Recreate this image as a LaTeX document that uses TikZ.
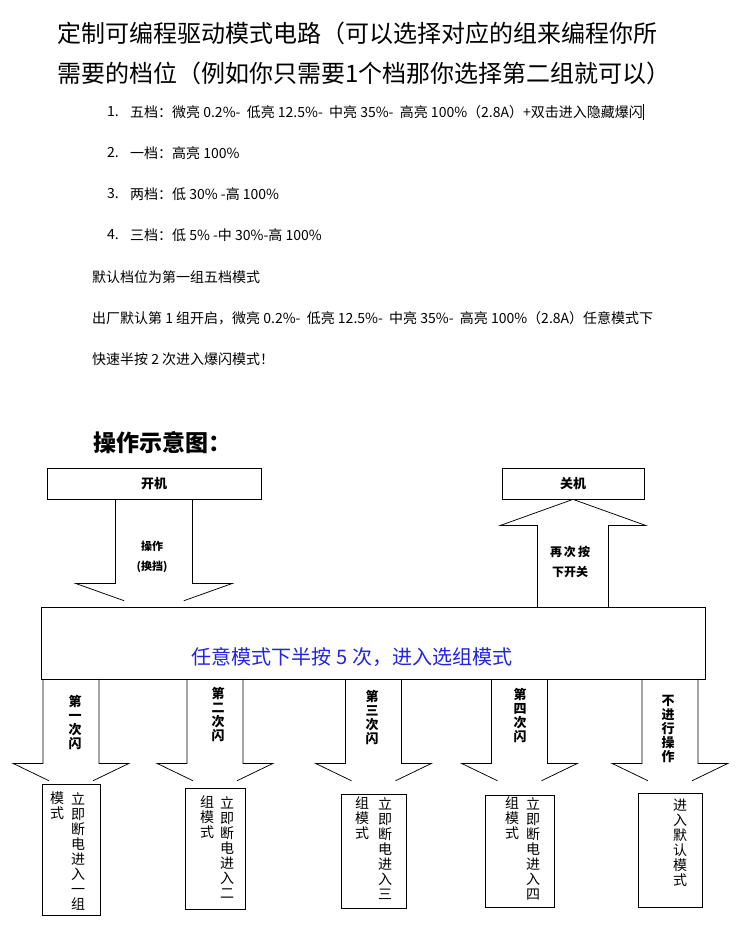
\documentclass[tikz,border=0pt]{standalone}
\usepackage{fontspec}
\setmainfont{Noto Sans CJK SC}
\usetikzlibrary{calc}
\definecolor{selblue}{RGB}{35,35,230}

\begin{document}
\begin{tikzpicture}[x=1pt, y=-1pt,
  ttl/.style={anchor=west, inner sep=0pt, font=\fontsize{24}{28}\selectfont},
  para/.style={anchor=west, inner sep=0pt, font=\fontsize{14}{16}\selectfont},
  box/.style={draw, fill=white, line width=0.75pt, inner sep=0pt},
  blk/.style={draw, fill=white, line width=0.75pt, line join=miter},
  flash/.style={anchor=north, align=center, inner sep=0pt, font=\bfseries\fontsize{13}{14}\selectfont},
  vcol/.style={anchor=north, align=center, inner sep=0pt, font=\fontsize{14}{15}\selectfont}
]
  \useasboundingbox (0,0) rectangle (750,930);

  %% Heading
  \node[ttl] (title1) at (57,33) {定制可编程驱动模式电路（可以选择对应的组来编程你所};
  \node[ttl] (title2) at (57,73) {需要的档位（例如你只需要1个档那你选择第二组就可以）};

  %% Gear list
  \node[para] (n1) at (107,112) {1.};
  \node[para] (g1) at (130,112) {五档：微亮 0.2\%-\ \ 低亮 12.5\%-\ \ 中亮 35\%-\ \ 高亮 100\%（2.8A）+双击进入隐藏爆闪\rule[-3pt]{1pt}{16pt}};
  \node[para] (n2) at (107,153) {2.};
  \node[para] (g2) at (130,153) {一档：高亮 100\%};
  \node[para] (n3) at (107,194) {3.};
  \node[para] (g3) at (130,194) {两档：低 30\% -高 100\%};
  \node[para] (n4) at (107,235) {4.};
  \node[para] (g4) at (130,235) {三档：低 5\% -中 30\%-高 100\%};

  %% Notes
  \node[para] (note1) at (92,277) {默认档位为第一组五档模式};
  \node[para] (note2) at (92,318) {出厂默认第 1 组开启，微亮 0.2\%-\ \ 低亮 12.5\%-\ \ 中亮 35\%-\ \ 高亮 100\%（2.8A）任意模式下};
  \node[para] (note3) at (92,359) {快速半按 2 次进入爆闪模式！};

  \node[anchor=west, inner sep=0pt, font=\bfseries\fontsize{23}{27}\selectfont] (diag) at (93,443) {操作示意图：};

  %% Power boxes and selection box
  \node[box, minimum width=214pt, minimum height=31pt, font=\bfseries\fontsize{13}{15}\selectfont] (on) at (154,483.5) {开机};
  \node[box, minimum width=142pt, minimum height=31pt, font=\bfseries\fontsize{13}{15}\selectfont] (off) at (573,483.5) {关机};
  \node[box, minimum width=664pt, minimum height=72pt] (sel) at (373,643) {};
  \node[text=selblue, font=\fontsize{20}{22}\selectfont] (seltxt) at (352,657) {任意模式下半按 5 次，进入选组模式};

  %% Operate arrow (down)
  \coordinate (opT) at ($(on.south)+(0,112)$);
  \coordinate (opL) at ($(on.south)+(-78.5,84)$);
  \coordinate (opR) at ($(on.south)+(78.5,84)$);
  \draw[blk] ($(opL)!.62!(opT)$) -- (opL) -- ++(40,0) -- ++(0,-84) -- ++(77,0) -- ++(0,84) -- (opR) -- ($(opR)!.62!(opT)$);
  \node[align=center, font=\bfseries\fontsize{11}{20}\selectfont] (oplbl) at (152,557) {操作\\(换挡)};

  %% Switch-off arrow (up)
  \draw[blk] (off.south) -- ++(72.5,26) -- ++(-37,0) -- ++(0,82) -- ++(-71,0) -- ++(0,-82) -- ++(-37,0) -- cycle;
  \node[align=center, font=\bfseries\fontsize{12}{20}\selectfont] (offlbl) at (570,562) {再\,次\,按\\下开关};

  %% Mode boxes
  \node[box, minimum width=58pt, minimum height=131pt] (m1) at (71,849.5) {};
  \node[box, minimum width=60pt, minimum height=121pt] (m2) at (215,848.5) {};
  \node[box, minimum width=65pt, minimum height=114pt] (m3) at (373.5,851) {};
  \node[box, minimum width=69pt, minimum height=112pt] (m4) at (519.5,851) {};
  \node[box, minimum width=64pt, minimum height=114pt] (m5) at (670,850) {};

  %% Flash arrows
  \coordinate (aT1) at ($(sel.south -| m1.north)+(0,112)$);
  \coordinate (aL1) at ($(sel.south -| m1.north)+(-58,84)$);
  \coordinate (aR1) at ($(sel.south -| m1.north)+(58,84)$);
  \draw[blk] ($(aL1)!.62!(aT1)$) -- (aL1) -- ++(30,0) -- ++(0,-84) -- ++(56,0) -- ++(0,84) -- (aR1) -- ($(aR1)!.62!(aT1)$);

  \coordinate (aT2) at ($(sel.south -| m2.north)+(0,112)$);
  \coordinate (aL2) at ($(sel.south -| m2.north)+(-58,84)$);
  \coordinate (aR2) at ($(sel.south -| m2.north)+(58,84)$);
  \draw[blk] ($(aL2)!.62!(aT2)$) -- (aL2) -- ++(30,0) -- ++(0,-84) -- ++(56,0) -- ++(0,84) -- (aR2) -- ($(aR2)!.62!(aT2)$);

  \coordinate (aT3) at ($(sel.south -| m3.north)+(0,112)$);
  \coordinate (aL3) at ($(sel.south -| m3.north)+(-58,84)$);
  \coordinate (aR3) at ($(sel.south -| m3.north)+(58,84)$);
  \draw[blk] ($(aL3)!.62!(aT3)$) -- (aL3) -- ++(30,0) -- ++(0,-84) -- ++(56,0) -- ++(0,84) -- (aR3) -- ($(aR3)!.62!(aT3)$);

  \coordinate (aT4) at ($(sel.south -| m4.north)+(0,112)$);
  \coordinate (aL4) at ($(sel.south -| m4.north)+(-58,84)$);
  \coordinate (aR4) at ($(sel.south -| m4.north)+(58,84)$);
  \draw[blk] ($(aL4)!.62!(aT4)$) -- (aL4) -- ++(30,0) -- ++(0,-84) -- ++(56,0) -- ++(0,84) -- (aR4) -- ($(aR4)!.62!(aT4)$);

  \coordinate (aT5) at ($(sel.south -| m5.north)+(0,112)$);
  \coordinate (aL5) at ($(sel.south -| m5.north)+(-58,84)$);
  \coordinate (aR5) at ($(sel.south -| m5.north)+(58,84)$);
  \draw[blk] ($(aL5)!.62!(aT5)$) -- (aL5) -- ++(30,0) -- ++(0,-84) -- ++(56,0) -- ++(0,84) -- (aR5) -- ($(aR5)!.62!(aT5)$);

  %% Arrow labels
  \node[flash] (f1) at (75,695) {第\\一\\次\\闪};
  \node[flash] (f2) at (218,687) {第\\二\\次\\闪};
  \node[flash] (f3) at (372,690) {第\\三\\次\\闪};
  \node[flash] (f4) at (520,688) {第\\四\\次\\闪};
  \node[flash] (f5) at (668,695) {不\\进\\行\\操\\作};

  %% Mode box texts
  \node[vcol] (t1a) at (78,792) {立\\即\\断\\电\\进\\入\\一\\组};
  \node[vcol] (t1b) at (57,792) {模\\式};
  \node[vcol] (t2a) at (227,796) {立\\即\\断\\电\\进\\入\\二};
  \node[vcol] (t2b) at (207,796) {组\\模\\式};
  \node[vcol] (t3a) at (385,797) {立\\即\\断\\电\\进\\入\\三};
  \node[vcol] (t3b) at (362,797) {组\\模\\式};
  \node[vcol] (t4a) at (533,797) {立\\即\\断\\电\\进\\入\\四};
  \node[vcol] (t4b) at (512,797) {组\\模\\式};
  \node[vcol] (t5) at (680,799) {进\\入\\默\\认\\模\\式};

\end{tikzpicture}
\end{document}
